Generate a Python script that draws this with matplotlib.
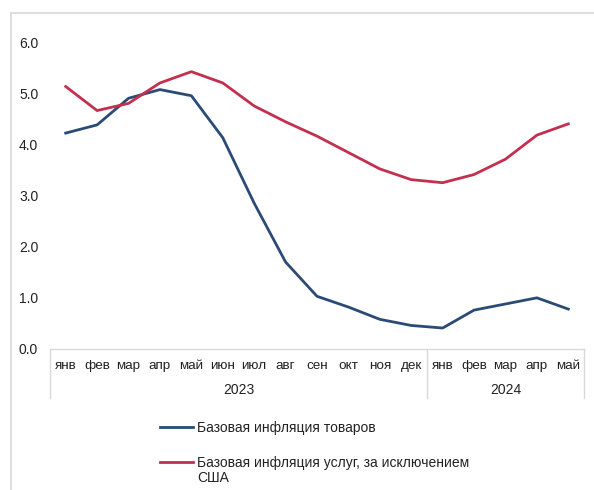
import numpy as np
import matplotlib.pyplot as plt
from matplotlib.lines import Line2D

plt.rcParams['font.family'] = ['Liberation Sans', 'DejaVu Sans']

# данные
months = ['янв', 'фев', 'мар', 'апр', 'май', 'июн', 'июл', 'авг', 'сен', 'окт', 'ноя', 'дек',
          'янв', 'фев', 'мар', 'апр', 'май']
years = ['2023', '2024']
year_len = [12, 5]
goods = [4.22, 4.38, 4.90, 5.07, 4.95, 4.13, 2.85, 1.70, 1.03, 0.82, 0.58, 0.46,
         0.41, 0.76, 0.88, 1.00, 0.78]
services = [5.13, 4.66, 4.80, 5.20, 5.42, 5.20, 4.75, 4.44, 4.16, 3.84, 3.52, 3.31,
            3.25, 3.41, 3.71, 4.18, 4.40]
labels = ['Базовая инфляция товаров', 'Базовая инфляция услуг, за исключением\nСША']

c_blue = '#2C4A76'
c_red = '#C3304F'
grid_c = '#D9D9D9'

fig = plt.figure(figsize=(5.94, 4.9), dpi=100)
W, H = 594, 490
ax = fig.add_axes([50 / W, 1 - 349 / H, 534 / W, 307 / H])

x = np.arange(len(months))
ax.plot(x, goods, color=c_blue, lw=2)
ax.plot(x, services, color=c_red, lw=2)

ax.set_xlim(-0.5, len(months) - 0.5)
ax.set_ylim(0, 6)
ax.set_yticks(np.arange(0, 6.1, 1.0))
ax.set_yticklabels([f'{v:.1f}' for v in np.arange(0, 6.1, 1.0)])
ax.set_xticks(x)
ax.set_xticklabels(months)
ax.tick_params(axis='y', length=0, pad=8.5, labelsize=10, colors='#222222')
ax.tick_params(axis='x', length=0, pad=8, labelsize=9.7, colors='#222222')

for s in ['top', 'right', 'left']:
    ax.spines[s].set_visible(False)
ax.spines['bottom'].set_color(grid_c)
ax.spines['bottom'].set_linewidth(1)

# разделители лет
tr = ax.get_xaxis_transform()
ybot = -49 / 307
bounds = np.concatenate([[0], np.cumsum(year_len)]) - 0.5
for b in bounds:
    ax.plot([b, b], [0, ybot], color=grid_c, lw=1, transform=tr, clip_on=False)
for i, yr in enumerate(years):
    xc = (bounds[i] + bounds[i + 1]) / 2
    ax.text(xc, -41 / 307, yr, transform=tr, ha='center', va='center',
            fontsize=10, color='#222222')

# рамка
fig.add_artist(Line2D([11 / W, 11 / W], [1 - 13 / H, 0], color=grid_c, lw=1.2))
fig.add_artist(Line2D([11 / W, 1], [1 - 13 / H, 1 - 13 / H], color=grid_c, lw=1.2))

# легенда
for col, lab, yy in [(c_blue, labels[0], 427), (c_red, labels[1], 462)]:
    fig.add_artist(Line2D([160 / W, 193 / W], [1 - yy / H, 1 - yy / H], color=col, lw=2))
    fig.text(197 / W, 1 - (yy - 6) / H, lab, ha='left', va='top', fontsize=10,
             color='#222222', linespacing=1.05)

fig.savefig('out.png', dpi=100)
